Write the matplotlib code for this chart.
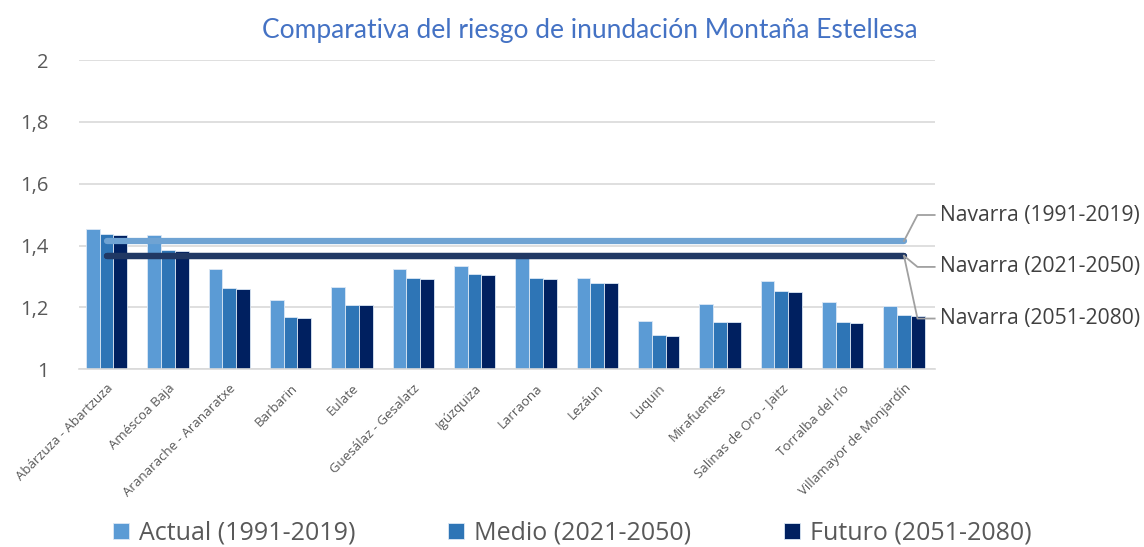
import numpy as np
import matplotlib
matplotlib.use('Agg')
import matplotlib.pyplot as plt

municipios = ['Abárzuza - Abartzuza', 'Améscoa Baja', 'Aranarache - Aranaratxe',
              'Barbarin', 'Eulate', 'Guesálaz - Gesalatz', 'Igúzquiza', 'Larraona',
              'Lezáun', 'Luquin', 'Mirafuentes', 'Salinas de Oro - Jaitz',
              'Torralba del río', 'Villamayor de Monjardín']
actual = [1.455, 1.434, 1.324, 1.224, 1.266, 1.323, 1.334, 1.375, 1.296,
          1.156, 1.212, 1.286, 1.216, 1.206]
medio = [1.437, 1.386, 1.263, 1.170, 1.208, 1.296, 1.309, 1.295, 1.280,
         1.111, 1.154, 1.252, 1.152, 1.175]
futuro = [1.434, 1.384, 1.259, 1.167, 1.207, 1.293, 1.306, 1.292, 1.279,
          1.109, 1.152, 1.250, 1.148, 1.172]
navarra_labels = ['Navarra (1991-2019)', 'Navarra (2021-2050)', 'Navarra (2051-2080)']
navarra = [1.415, 1.367, 1.367]
series_labels = ['Actual (1991-2019)', 'Medio (2021-2050)', 'Futuro (2051-2080)']

plt.rcParams['font.family'] = ['Open Sans', 'DejaVu Sans']
txt = '#595959'

fig = plt.figure(figsize=(11.44, 5.47), dpi=100)
ax = fig.add_axes([0.069, 0.325, 0.748, 0.565])

x = np.arange(len(municipios))
w = 0.225
cols = ['#5B9BD5', '#2E75B6', '#002060']
for i, (vals, c, lab) in enumerate(zip([actual, medio, futuro], cols, series_labels)):
    ax.bar(x + (i - 1) * w, np.array(vals) - 1, w, bottom=1, color=c,
           edgecolor='#dce8f5', linewidth=0.6, label=lab, zorder=2)

line_cols = ['#6FA3D3', '#203864', '#203864']
for v, c in zip(navarra, line_cols):
    ax.plot([x[0], x[-1]], [v, v], color=c, lw=4.5, solid_capstyle='round', zorder=3)

# etiquetas de Navarra con líneas guía
lab_y = [1.499, 1.331, 1.164]
x_codo = x[-1] + 0.22
x_fin = x[-1] + 0.5
for v, ly, lab in zip(navarra, lab_y, navarra_labels):
    ax.plot([x[-1], x_codo, x_fin], [v, ly, ly], color='#a0a0a0', lw=1.3,
            clip_on=False, zorder=4)
    ax.text(x_fin + 0.08, ly, lab, fontsize=15.2, color='#404040',
            va='center', ha='left', clip_on=False)

ax.set_xlim(-0.45, 13.5)
ax.set_ylim(1, 2)
ax.set_yticks([1, 1.2, 1.4, 1.6, 1.8, 2])
ax.set_yticklabels(['1', '1,2', '1,4', '1,6', '1,8', '2'])
ax.set_xticks(x)
ax.set_xticklabels(municipios, rotation=45, ha='right', rotation_mode='anchor',
                   fontsize=9.5)
ax.tick_params(axis='y', length=0, labelsize=14.5, labelcolor=txt, pad=22)
ax.tick_params(axis='x', length=0, labelcolor=txt, pad=9)
ax.grid(axis='y', color='#d9d9d9', lw=1.2, zorder=0)
for s in ['top', 'right', 'left']:
    ax.spines[s].set_visible(False)
ax.spines['bottom'].set_color('#d9d9d9')
ax.spines['bottom'].set_linewidth(1.2)

fig.text(0.516, 0.945, 'Comparativa del riesgo de inundación Montaña Estellesa',
         ha='center', va='center', fontsize=19, color='#4472C4',
         family=['Lato', 'DejaVu Sans'])

handles, labels = ax.get_legend_handles_labels()
fig.legend(handles, labels, loc='center', bbox_to_anchor=(0.5, 0.025), ncol=3,
           frameon=False, fontsize=18, handlelength=0.65, handleheight=0.65,
           columnspacing=3.7, handletextpad=0.4, labelcolor=txt)

fig.savefig('out.png', dpi=100)
